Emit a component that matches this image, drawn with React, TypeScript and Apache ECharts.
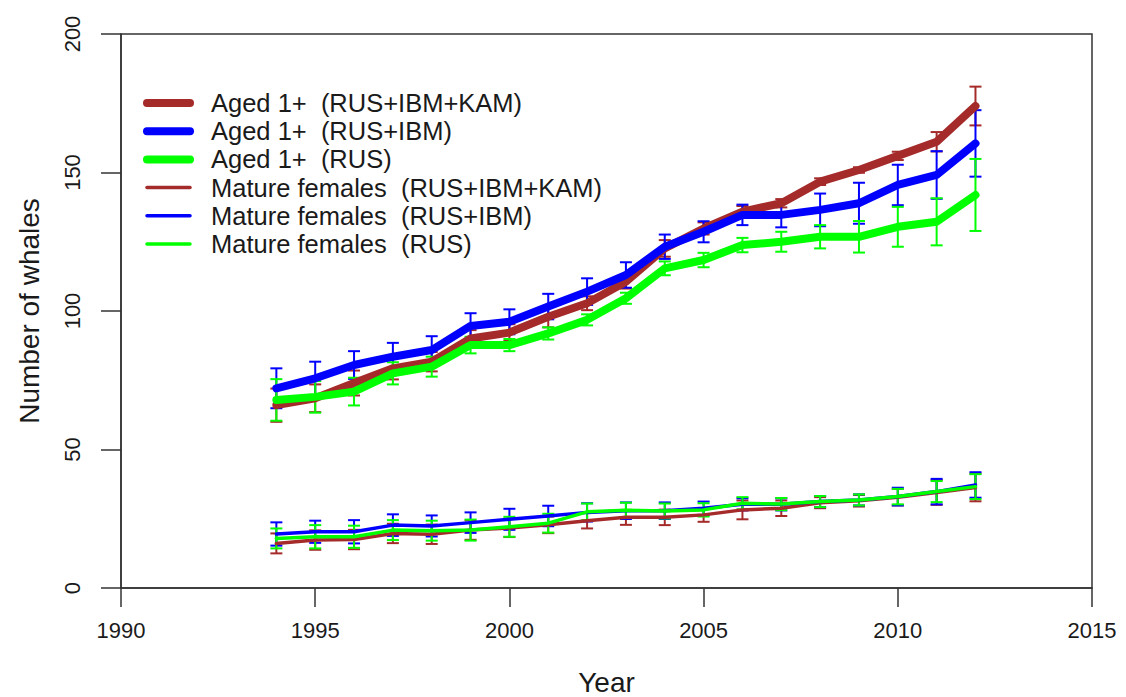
import React, { useEffect, useRef } from "react";
import * as echarts from "echarts";

const years = [1994, 1995, 1996, 1997, 1998, 1999, 2000, 2001, 2002, 2003, 2004, 2005, 2006, 2007, 2008, 2009, 2010, 2011, 2012];

const agedAll = [66, 68.5, 74, 79.3, 81.7, 90.1, 92.2, 97.9, 102.8, 110.6, 122.6, 129.8, 135.9, 138.9, 146.7, 150.9, 156, 161.1, 174];
const agedAllErr = [6, 5, 4.5, 4, 3.5, 3, 3, 3.8, 2.5, 2.5, 3, 2.2, 2, 1.5, 1.2, 1, 1.5, 3.5, 7];
const agedIbm = [72.1, 75.7, 80.5, 83.5, 85.9, 94.6, 96.1, 101.6, 107, 113, 123.2, 128.6, 134.7, 134.7, 136.5, 138.9, 145.5, 149.1, 160.5];
const agedIbmErr = [7.2, 6, 5, 5, 5, 4.6, 4.5, 4.6, 4.8, 4.6, 4.4, 3.8, 3.7, 4.5, 5.9, 7.4, 7.3, 8.6, 12];
const agedRus = [67.9, 69, 70.9, 77.5, 79.9, 87.7, 87.7, 91.9, 96.8, 104.6, 115.4, 118.4, 123.8, 125, 126.8, 126.8, 130.4, 132.2, 141.9];
const agedRusErr = [7.5, 5.7, 5, 4, 3.6, 3, 2.2, 2.2, 2, 2, 2.5, 2.6, 2.6, 3.6, 4.2, 5.7, 7.2, 8.5, 13];

const matAll = [16.1, 17.3, 17.5, 19.7, 19.4, 20.9, 21.7, 22.8, 24.3, 25.5, 25.5, 26.4, 28.2, 28.8, 30.8, 31.5, 32.8, 34.5, 36.3];
const matAllErr = [3.6, 3.5, 3.5, 3.5, 3.5, 3.5, 3.3, 3, 2.8, 2.7, 2.8, 2.5, 3.4, 2.8, 2, 2.1, 3, 4.5, 5];
const matIbm = [19.5, 20.3, 20.3, 22.7, 22.4, 23.6, 24.8, 26, 27.3, 27.9, 27.9, 28.8, 30.2, 30.2, 31.2, 31.8, 33, 34.8, 37.2];
const matIbmErr = [4.2, 4, 4.2, 3.9, 3.8, 3.7, 3.8, 3.7, 3.3, 3, 3, 2.4, 2.2, 2.2, 2, 2, 3.2, 4.6, 4.6];
const matRus = [17.9, 18.5, 18.5, 20.9, 20.7, 20.9, 22.1, 23.4, 27.5, 28.1, 27.8, 28.2, 30.6, 30.3, 31.2, 31.8, 33, 34.8, 36.6];
const matRusErr = [3.6, 4.2, 4, 3.6, 3.6, 3.8, 3.6, 3.4, 3, 2.7, 2.7, 2.4, 2.2, 2.2, 2, 2, 2.8, 3.8, 4.5];

const xTicks = { min: 1990, max: 2015, interval: 5 };
const yTicks = { min: 0, max: 200, interval: 50 };

const RED = "#A52A2A";
const BLUE = "#0000FF";
const GREEN = "#00FF00";
const FONT = "Liberation Sans";
const TXT = "#1a1a1a";

type S = { name: string; values: number[]; err: number[]; color: string; width: number };

const seriesDefs: S[] = [
  { name: "Aged 1+  (RUS+IBM+KAM)", values: agedAll, err: agedAllErr, color: RED, width: 8 },
  { name: "Aged 1+  (RUS+IBM)", values: agedIbm, err: agedIbmErr, color: BLUE, width: 8 },
  { name: "Aged 1+  (RUS)", values: agedRus, err: agedRusErr, color: GREEN, width: 8 },
  { name: "Mature females  (RUS+IBM+KAM)", values: matAll, err: matAllErr, color: RED, width: 3.5 },
  { name: "Mature females  (RUS+IBM)", values: matIbm, err: matIbmErr, color: BLUE, width: 3.5 },
  { name: "Mature females  (RUS)", values: matRus, err: matRusErr, color: GREEN, width: 3.5 },
];

export default function App() {
  const ref = useRef<HTMLDivElement>(null);
  useEffect(() => {
    if (!ref.current) return;
    const chart = echarts.init(ref.current, undefined, { renderer: "svg" });
    const series: any[] = [];
    seriesDefs.forEach((s) => {
      series.push({
        name: s.name,
        type: "line",
        symbol: "none",
        data: years.map((y, i) => [y, s.values[i]]),
        lineStyle: { color: s.color, width: s.width, cap: "round", join: "round" },
        itemStyle: { color: s.color },
      });
      series.push({
        name: s.name + " err",
        type: "custom",
        data: years.map((y, i) => [y, s.values[i] - s.err[i], s.values[i] + s.err[i]]),
        encode: { x: 0, y: [1, 2] },
        renderItem: (params: any, api: any) => {
          const x = api.value(0);
          const lo = api.coord([x, api.value(1)]);
          const hi = api.coord([x, api.value(2)]);
          const hw = 6;
          const st = { stroke: s.color, lineWidth: 2 };
          return {
            type: "group",
            children: [
              { type: "line", shape: { x1: lo[0], y1: lo[1], x2: hi[0], y2: hi[1] }, style: st },
              { type: "line", shape: { x1: lo[0] - hw, y1: lo[1], x2: lo[0] + hw, y2: lo[1] }, style: st },
              { type: "line", shape: { x1: hi[0] - hw, y1: hi[1], x2: hi[0] + hw, y2: hi[1] }, style: st },
            ],
          };
        },
      });
    });

    const legendTop = 103;
    const legendStep = 28.2;
    const legendGraphics: any[] = [];
    seriesDefs.forEach((s, i) => {
      const y = legendTop + legendStep * i;
      legendGraphics.push({
        type: "line",
        shape: { x1: 147, y1: y, x2: 190, y2: y },
        style: { stroke: s.color, lineWidth: s.width, lineCap: "round" },
        silent: true,
      });
      legendGraphics.push({
        type: "text",
        x: 211,
        y: y,
        style: {
          text: s.name,
          fontSize: 25.5,
          fontFamily: FONT,
          fill: TXT,
          verticalAlign: "middle",
          align: "left",
        },
        silent: true,
      });
    });

    chart.setOption({
      animation: false,
      backgroundColor: "#ffffff",
      textStyle: { fontFamily: FONT },
      grid: {
        left: 121,
        top: 34,
        width: 971,
        height: 554,
        show: true,
        borderColor: "#333",
        borderWidth: 1.5,
        backgroundColor: "transparent",
        containLabel: false,
        outerBoundsMode: "none",
      },
      graphic: legendGraphics,
      xAxis: {
        type: "value",
        min: xTicks.min,
        max: xTicks.max,
        interval: xTicks.interval,
        name: "Year",
        nameLocation: "middle",
        nameGap: 80,
        nameTextStyle: { fontSize: 28, color: TXT, fontFamily: FONT },
        axisLine: { show: true, lineStyle: { color: "#333", width: 1.5 } },
        axisTick: { show: true, inside: false, length: 19, lineStyle: { color: "#333", width: 1.5 } },
        axisLabel: { fontSize: 22, color: TXT, margin: 31, fontFamily: FONT, formatter: (v: number) => String(v) },
        splitLine: { show: false },
      },
      yAxis: {
        type: "value",
        min: yTicks.min,
        max: yTicks.max,
        interval: yTicks.interval,
        name: "Number of whales",
        nameLocation: "middle",
        nameRotate: 90,
        nameGap: 78,
        nameTextStyle: { fontSize: 28, color: TXT, fontFamily: FONT },
        axisLine: { show: true, lineStyle: { color: "#333", width: 1.5 } },
        axisTick: { show: true, inside: false, length: 20, lineStyle: { color: "#333", width: 1.5 } },
        axisLabel: { fontSize: 22, color: TXT, margin: 38, rotate: 90, fontFamily: FONT, formatter: (v: number) => String(v) },
        splitLine: { show: false },
      },
      series,
    });
    return () => chart.dispose();
  }, []);
  return (
    <div
      ref={ref}
      style={{ position: "fixed", left: 0, top: 0, width: 1126, height: 697, background: "#fff" }}
    />
  );
}
